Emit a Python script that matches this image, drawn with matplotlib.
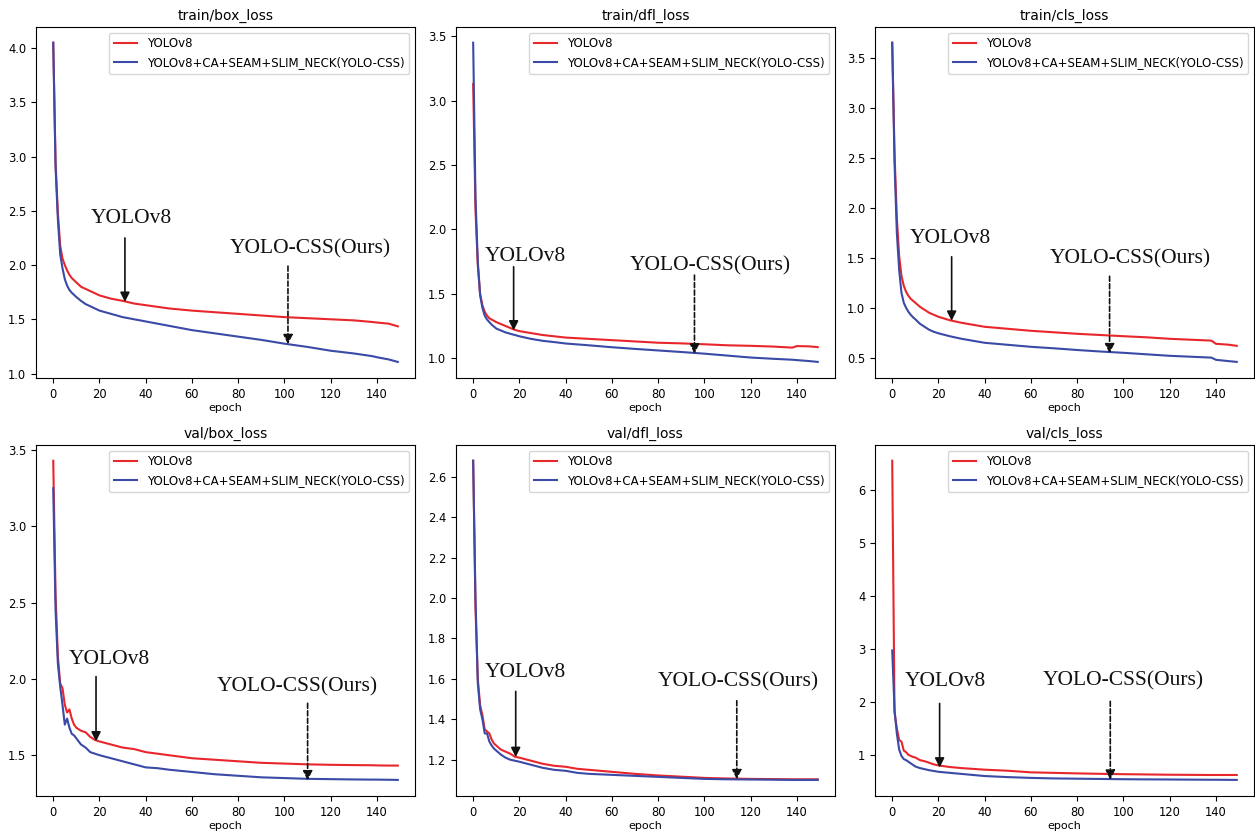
import matplotlib
matplotlib.use('Agg')
import matplotlib.pyplot as plt

EPOCHS = [0, 1, 2, 3, 4, 5, 6, 7, 8, 9, 10, 12, 14, 16, 18, 20, 25, 30, 35, 40,
          45, 50, 60, 70, 80, 90, 100, 110, 120, 130, 138, 140, 145, 149]

# train/box_loss
tb_red = [4.05, 2.95, 2.48, 2.18, 2.06, 2.00, 1.95, 1.91, 1.88, 1.86, 1.84, 1.80, 1.78, 1.76, 1.74, 1.72, 1.69,
          1.67, 1.645, 1.63, 1.615, 1.60, 1.58, 1.565, 1.55, 1.535, 1.52, 1.51, 1.50, 1.49, 1.475, 1.47, 1.46, 1.435]
tb_blue = [4.05, 2.90, 2.42, 2.10, 1.97, 1.87, 1.81, 1.77, 1.745, 1.725, 1.705, 1.67, 1.64, 1.62, 1.60, 1.58, 1.55,
           1.52, 1.50, 1.48, 1.46, 1.44, 1.40, 1.37, 1.34, 1.31, 1.275, 1.245, 1.21, 1.185, 1.16, 1.15, 1.13, 1.107]
# train/dfl_loss
td_red = [3.13, 2.15, 1.72, 1.50, 1.41, 1.36, 1.33, 1.31, 1.30, 1.29, 1.28, 1.265, 1.25, 1.235, 1.22, 1.21, 1.195,
          1.18, 1.17, 1.16, 1.155, 1.15, 1.14, 1.13, 1.12, 1.115, 1.108, 1.10, 1.096, 1.09, 1.082, 1.094, 1.092, 1.086]
td_blue = [3.45, 2.25, 1.75, 1.49, 1.39, 1.33, 1.30, 1.28, 1.26, 1.245, 1.23, 1.215, 1.20, 1.19, 1.18, 1.17, 1.15,
           1.135, 1.125, 1.114, 1.107, 1.10, 1.085, 1.072, 1.06, 1.048, 1.035, 1.02, 1.005, 0.995, 0.988, 0.985, 0.978, 0.971]
# train/cls_loss
tc_red = [3.65, 2.55, 1.90, 1.52, 1.32, 1.22, 1.16, 1.12, 1.09, 1.07, 1.05, 1.01, 0.98, 0.95, 0.93, 0.91, 0.875,
          0.85, 0.83, 0.81, 0.80, 0.79, 0.77, 0.755, 0.74, 0.728, 0.716, 0.705, 0.69, 0.68, 0.672, 0.64, 0.632, 0.62]
tc_blue = [3.65, 2.45, 1.75, 1.38, 1.15, 1.05, 1.00, 0.96, 0.93, 0.905, 0.885, 0.84, 0.81, 0.78, 0.76, 0.745, 0.715,
           0.69, 0.67, 0.65, 0.64, 0.63, 0.61, 0.595, 0.578, 0.563, 0.55, 0.535, 0.52, 0.51, 0.502, 0.48, 0.468, 0.459]
# val/box_loss
vb_red = [3.43, 2.55, 2.15, 1.97, 1.94, 1.83, 1.78, 1.80, 1.74, 1.70, 1.68, 1.66, 1.65, 1.62, 1.60, 1.59, 1.57,
          1.55, 1.54, 1.52, 1.51, 1.50, 1.48, 1.47, 1.46, 1.45, 1.445, 1.44, 1.437, 1.435, 1.434, 1.433, 1.432, 1.432]
vb_blue = [3.25, 2.45, 2.10, 1.95, 1.83, 1.70, 1.74, 1.68, 1.64, 1.63, 1.61, 1.57, 1.55, 1.52, 1.51, 1.50, 1.48,
           1.46, 1.44, 1.42, 1.415, 1.405, 1.39, 1.375, 1.365, 1.355, 1.35, 1.345, 1.343, 1.341, 1.340, 1.340, 1.339, 1.338]
# val/dfl_loss
vd_red = [2.68, 1.95, 1.60, 1.47, 1.42, 1.35, 1.34, 1.33, 1.30, 1.28, 1.27, 1.25, 1.24, 1.23, 1.215, 1.21, 1.195,
          1.18, 1.17, 1.165, 1.155, 1.15, 1.14, 1.13, 1.122, 1.116, 1.11, 1.107, 1.105, 1.104, 1.103, 1.103, 1.103, 1.103]
vd_blue = [2.68, 2.00, 1.58, 1.45, 1.40, 1.33, 1.33, 1.29, 1.27, 1.255, 1.245, 1.225, 1.21, 1.20, 1.195, 1.19, 1.175,
           1.16, 1.15, 1.145, 1.135, 1.13, 1.125, 1.12, 1.115, 1.11, 1.105, 1.103, 1.102, 1.101, 1.10, 1.10, 1.10, 1.10]
# val/cls_loss
vc_red = [6.55, 1.80, 1.50, 1.28, 1.25, 1.08, 1.05, 1.00, 0.98, 0.96, 0.95, 0.90, 0.88, 0.85, 0.82, 0.80, 0.77,
          0.75, 0.735, 0.72, 0.71, 0.70, 0.67, 0.66, 0.65, 0.642, 0.635, 0.63, 0.625, 0.622, 0.62, 0.62, 0.62, 0.62]
vc_blue = [2.97, 1.85, 1.40, 1.10, 0.98, 0.92, 0.90, 0.87, 0.84, 0.81, 0.78, 0.75, 0.73, 0.71, 0.695, 0.68, 0.66,
           0.64, 0.62, 0.60, 0.59, 0.58, 0.565, 0.555, 0.55, 0.545, 0.54, 0.537, 0.535, 0.532, 0.53, 0.53, 0.528, 0.527]

titles = ['train/box_loss', 'train/dfl_loss', 'train/cls_loss',
          'val/box_loss', 'val/dfl_loss', 'val/cls_loss']
reds = [tb_red, td_red, tc_red, vb_red, vd_red, vc_red]
blues = [tb_blue, td_blue, tc_blue, vb_blue, vd_blue, vc_blue]
label_red = 'YOLOv8'
label_blue = 'YOLOv8+CA+SEAM+SLIM_NECK(YOLO-CSS)'

# annotation layout: (text x, text y, arrow x, arrow top, arrow tip) for YOLOv8 then YOLO-CSS
notes = [
    ((34, 2.43, 31, 2.25, 1.66), (111, 2.15, 101.5, 1.99, 1.27)),
    ((22.8, 1.79, 17.5, 1.71, 1.215), (102.5, 1.72, 95.7, 1.645, 1.035)),
    ((25.3, 1.69, 25.7, 1.51, 0.87), (103, 1.49, 94, 1.315, 0.545)),
    ((24.5, 2.13, 18.5, 2.015, 1.59), (105.6, 1.95, 110, 1.84, 1.335)),
    ((22.8, 1.63, 18.4, 1.538, 1.213), (114.7, 1.587, 114, 1.492, 1.103)),
    ((23.1, 2.39, 20.5, 1.97, 0.76), (99.8, 2.39, 94.3, 2.01, 0.53)),
]

RED = '#e8262c'
BLUE = '#3a4aa6'

fig = plt.figure(figsize=(12.55, 8.36), dpi=100)
lefts = [0.0287, 0.3633, 0.6972]
bottoms = [0.548, 0.048]
w, h = 0.302, 0.42

for i in range(6):
    ax = fig.add_axes([lefts[i % 3], bottoms[i // 3], w, h])
    ax.plot(EPOCHS, reds[i], color=RED, lw=1.5, label=label_red)
    ax.plot(EPOCHS, blues[i], color=BLUE, lw=1.5, label=label_blue)
    ax.set_title(titles[i], fontsize=10, pad=5)
    ax.set_xlabel('epoch', fontsize=8, labelpad=2)
    ax.tick_params(labelsize=8.3)
    ax.set_xticks(range(0, 141, 20))
    ax.legend(loc='upper right', fontsize=8.5, handlelength=2.0, borderaxespad=0.5)

    (t1x, t1y, a1x, a1top, a1tip), (t2x, t2y, a2x, a2top, a2tip) = notes[i]
    ax.text(t1x, t1y, 'YOLOv8', fontsize=15.5, family='Liberation Serif',
            ha='center', va='center', color='#111111')
    ax.text(t2x, t2y, 'YOLO-CSS(Ours)', fontsize=15.5, family='Liberation Serif',
            ha='center', va='center', color='#111111')
    ax.annotate('', xy=(a1x, a1tip), xytext=(a1x, a1top),
                arrowprops=dict(arrowstyle='-|>', color='#111111', lw=1.2,
                                mutation_scale=14, shrinkA=0, shrinkB=0))
    ax.annotate('', xy=(a2x, a2tip), xytext=(a2x, a2top),
                arrowprops=dict(arrowstyle='-|>', color='#111111', lw=1.2, ls=(0, (3, 1.5)),
                                mutation_scale=14, shrinkA=0, shrinkB=0))

fig.savefig('out.png', dpi=100)
